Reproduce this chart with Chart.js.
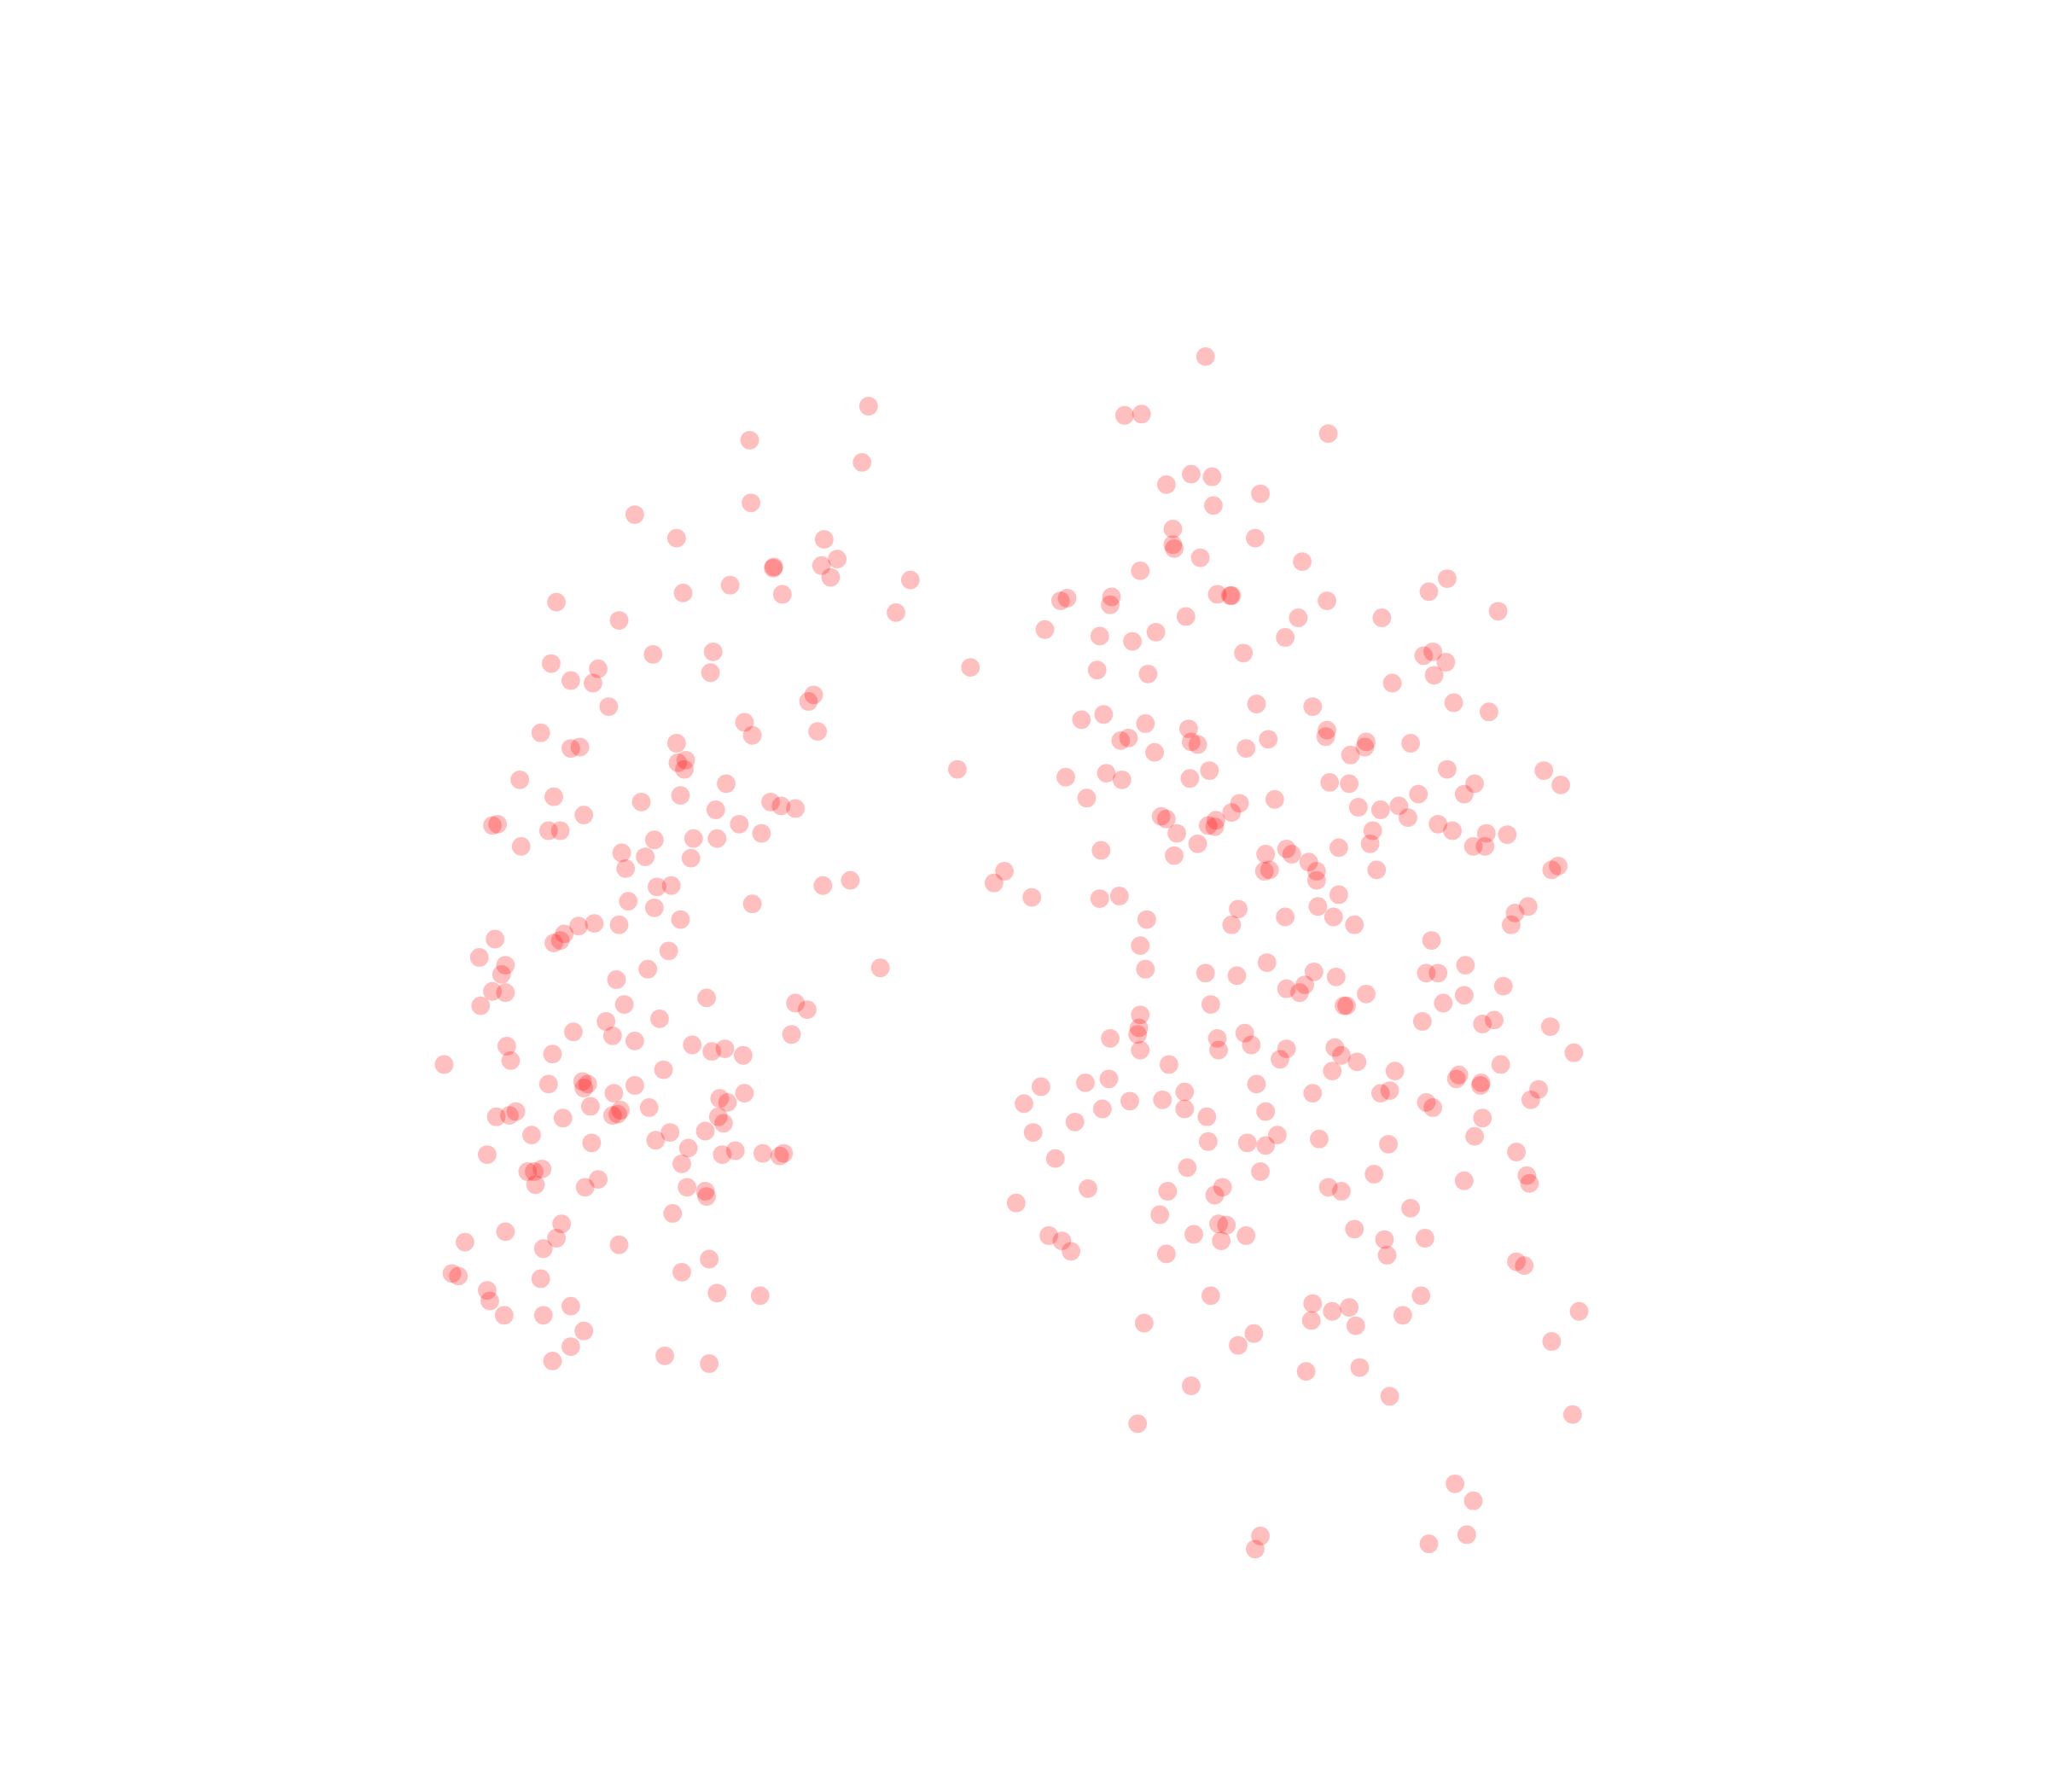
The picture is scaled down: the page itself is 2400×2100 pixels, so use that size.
<!DOCTYPE html>
<html>
<head>
<meta charset="utf-8">
<style>
  html, body { margin: 0; padding: 0; background: #fff; }
  #box { position: relative; width: 2400px; height: 2100px; }
</style>
<script src="https://cdn.jsdelivr.net/npm/chart.js@4"></script>
</head>
<body>
<div id="box"><canvas id="grafica"></canvas></div>
<script>
const leftPoints = [[665,311],[574,337],[660,354],[575,385],[486,394],[518,412],[631,413],[641,428],[629,433],[592,435],[592.5,434],[636,442],[697,444],[559,448],[599,455],[523,454],[426,461],[686,469],[474,475],[546,499],[500,501],[422,508],[458,512],[544,515],[437,521],[454,523],[743,511],[623,532],[619,537],[466,541],[570,553],[626,560],[576,563],[414,561],[518,569],[444,572],[437,573],[525,582],[519,584],[524,589],[733,589],[398,597],[556,600],[521,609],[424,610],[491,614],[590,614],[598,617],[609,619],[548,620],[447,624],[566,631],[381,631],[377,632],[420,636],[429,636],[583,638],[501,643],[531,642],[549,642],[399,648],[476,653],[494,656],[529,657],[479,665],[651,674],[630,678],[514,678],[503,679],[481,690],[576,692],[501,695],[521,704],[474,708],[455,707],[443,709],[432,715],[429,720],[424,722],[379,719],[512,728],[367,733],[387,739],[384,746],[496,742],[674,741],[472,750],[377,759],[387,760],[541,764],[368,770],[478,769],[609,768],[618,773],[505,780],[464,782],[439,790],[469,793],[486,797],[606,792],[388,801],[530,800],[545,805],[555,803],[569,808],[423,807],[391,812],[340,815],[508,819],[446,828],[450,830],[447,833],[420,830],[486,831],[470,837],[570,837],[551,841],[557,844],[497,848],[452,847],[475,850],[473,853],[469,854],[395,851],[390,854],[380,855],[431,856],[550,855],[554,860],[540,866],[513,867],[407,869],[502,873],[453,875],[527,879],[563,881],[553,884],[584,883],[600,883],[597,885],[373,884],[522,891],[415,895],[404,897],[409,897],[458,903],[410,907],[448,909],[526,909],[540,912],[541,916],[515,929],[430,937],[387,943],[426,948],[356,951],[474,953],[416,956],[543,964],[522,974],[346,975],[351,977],[414,979],[373,988],[549,990],[582,992],[375,996],[437,1000],[386,1007],[416,1007],[447,1019],[437,1031],[509,1038],[423,1042],[543,1044]];

const rightPoints = [[923,273],[861,318],[874,317],[1017,332],[912,363],[928,365],[893,371],[965,378],[929,387],[898,405],[961,412],[898,417],[899,420],[919,427],[997,430],[873,437],[1108,443],[1094,453],[932,455],[942,456],[943,456],[851,457],[817,458],[812,460],[850,463],[1016,460],[1147,468],[908,472],[994,473],[1058,473],[800,482],[885,484],[842,487],[867,491],[984,488],[1097,499],[1090,502],[952,500],[1107,507],[840,513],[879,516],[1098,517],[1066,523],[962,539],[1113,538],[1005,541],[1140,545],[845,547],[828,551],[877,554],[910,558],[1016,559],[864,565],[858,567],[971,566],[1015,564],[912,568],[917,570],[1046,568],[1045,572],[954,573],[1080,569],[884,576],[1034,578],[926,590],[1108,589],[1182,590],[847,592],[816,595],[859,597],[911,596],[1018,599],[1033,600],[1129,600],[1195,601],[1121,608],[1086,608],[832,611],[949,615],[976,612],[1040,618],[1071,617],[1057,620],[943,622],[889,625],[893,627],[1078,626],[931,628],[925,632],[930,633],[1101,631],[1051,636],[1112,636],[901,638],[1138,638],[1154,639],[917,646],[1049,646],[1025,649],[1128,648],[1137,648],[843,651],[985,650],[969,654],[899,655],[989,654],[1002,660],[1193,663],[1188,666],[972,666],[968,667],[1054,666],[1008,667],[1008,674],[769,667],[761,676],[1025,685],[790,687],[842,688],[857,686],[1009,694],[1170,694],[948,696],[1160,699],[984,702],[1021,702],[878,704],[1157,708],[943,708],[1037,708],[1096,720],[873,724],[970,737],[1122,739],[877,742],[1092,745],[1101,745],[923,745],[1006,744],[947,747],[1023,748],[985,757],[999,754],[1151,755],[995,760],[1046,761],[1121,762],[1105,768],[927,769],[1029,770],[1031,770],[873,777],[1144,781],[1089,782],[1135,784],[1187,786],[872,787],[871,792],[953,791],[850,795],[932,795],[958,800],[1022,802],[985,803],[873,804],[933,804],[1205,806],[1027,808],[980,811],[1039,813],[895,815],[1149,815],[1020,820],[1068,820],[1117,823],[1115,826],[849,826],[831,829],[962,830],[797,832],[1134,829],[1133.5,831],[1178,834],[1064,835],[1057,837],[1005,837],[907,836],[890,842],[865,843],[784,845],[1092,844],[1097,848],[1172,842],[844,849],[907,849],[969,851],[924,855],[1135,856],[823,859],[791,867],[978,869],[1129,870],[925,874],[955,875],[969,877],[1010,872],[1063,876],[808,887],[1161,882],[909,894],[965,897],[1052,899],[1169,900],[1171,906],[1121,904],[833,910],[894,912],[936,909],[930,915],[1017,909],[1027,912],[778,921],[1080,925],[888,930],[933,937],[939,938],[1037,941],[803,946],[914,945],[954,946],[813,950],[935,950],[1060,949],[1091,948],[820,958],[893,960],[1062,961],[1161,966],[1167,969],[927,992],[1088,992],[1005,998],[1033,1001],[1020,1004],[1209,1004],[1074,1007],[1004,1011],[876,1013],[1038,1015],[960,1021],[948,1030],[1188,1027],[1000,1050],[1041,1047],[912,1061],[1064,1069],[1204,1083],[871,1090],[1114,1136],[1128,1149],[965,1176],[1123,1175],[961,1186],[1094,1182]];

const toXY = (list) => list.map((p) => ({ x: p[0], y: p[1] }));

new Chart(document.getElementById("grafica"), {
  type: "scatter",
  data: {
    datasets: [
      { data: toXY(leftPoints) },
      { data: toXY(rightPoints) },
    ],
  },
  options: {
    responsive: true,
    maintainAspectRatio: false,
    animation: false,
    layout: { padding: 0, autoPadding: false },
    elements: {
      point: {
        radius: 10.9,
        borderWidth: 0,
        backgroundColor: "rgba(255, 0, 0, 0.25)",
      },
    },
    plugins: {
      legend: { display: false },
      tooltip: { enabled: false },
    },
    scales: {
      x: { display: false, min: 0, max: 1568 },
      y: { display: false, min: 0, max: 1372, reverse: true },
    },
  },
});
</script>
</body>
</html>
